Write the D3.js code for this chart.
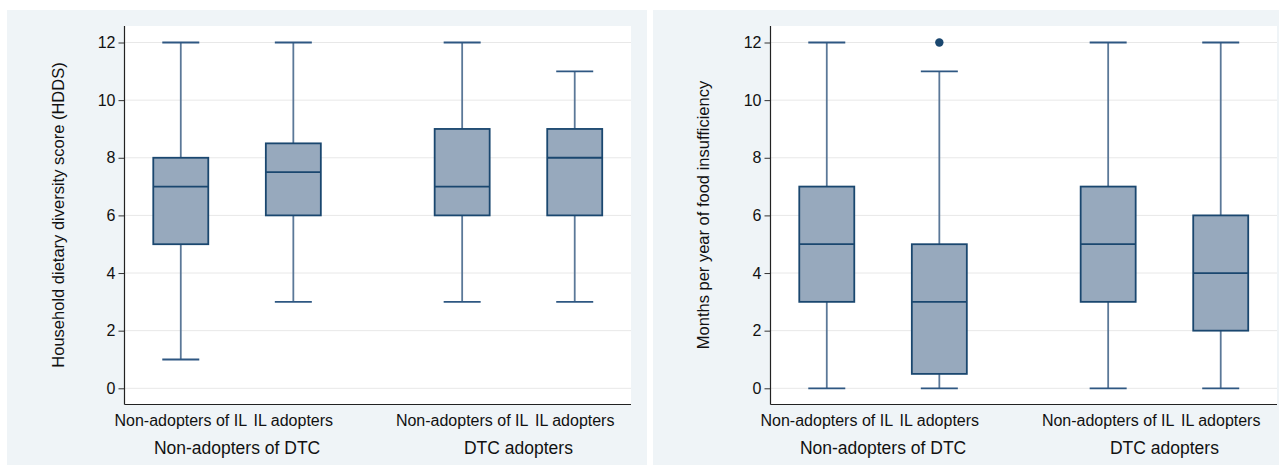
<!DOCTYPE html>
<html><head><meta charset="utf-8">
<script src="https://cdn.jsdelivr.net/npm/d3@7"></script>
<style>body{margin:0;background:#fff;font-family:"Liberation Sans",Arial,sans-serif;}</style>
</head><body><svg id="c" width="1279" height="468"></svg>
<script>
const categories = ["Non-adopters of IL", "IL adopters", "Non-adopters of IL", "IL adopters"];
const groups = ["Non-adopters of DTC", "DTC adopters"];
const positions = [1, 2, 3.5, 4.5];
const yTicks = [0, 2, 4, 6, 8, 10, 12];
// [min, q1, median, q3, max]
const hddsStats = [[1, 5, 7, 8, 12], [3, 6, 7.5, 8.5, 12], [3, 6, 7, 9, 12], [3, 6, 8, 9, 11]];
const hddsOutliers = [[], [], [], []];
const monthsStats = [[0, 3, 5, 7, 12], [0, 0.5, 3, 5, 11], [0, 3, 5, 7, 12], [0, 2, 4, 6, 12]];
const monthsOutliers = [[], [12], [], []];
const titles = ["Household dietary diversity score (HDDS)", "Months per year of food insufficiency"];

const svg = d3.select("#c");
const panels = [
  {x0: 7, x1: 647, px0: 124.5, px1: 631, stats: hddsStats, out: hddsOutliers, title: titles[0], tx: 63.5},
  {x0: 653, x1: 1279, px0: 770.5, px1: 1277, stats: monthsStats, out: monthsOutliers, title: titles[1], tx: 709}
];
const navy = "#1a476f", fill = "#97a9bd", whisk = "#5b7898";
const FONT = "Liberation Sans, Arial, sans-serif";

panels.forEach(p => {
  const g = svg.append("g").attr("font-family", FONT);
  g.append("rect").attr("x", p.x0).attr("y", 10).attr("width", p.x1 - p.x0).attr("height", 455).attr("fill", "#eff4f7");
  g.append("rect").attr("x", p.px0).attr("y", 26).attr("width", p.px1 - p.px0).attr("height", 378).attr("fill", "#fff");
  const x = d3.scaleLinear().domain([0.5, 5]).range([p.px0, p.px1]);
  const y = d3.scaleLinear().domain([0, 12]).range([388.3, 42.5]);
  g.selectAll(".grid").data(yTicks).join("line")
    .attr("x1", p.px0).attr("x2", p.px1).attr("y1", d => y(d)).attr("y2", d => y(d))
    .attr("stroke", "#e8e8e8").attr("stroke-width", 1);
  const ax = g.append("g").attr("transform", `translate(${p.px0},0)`)
    .call(d3.axisLeft(y).tickValues(yTicks).tickSize(6).tickPadding(3));
  ax.select(".domain").remove();
  ax.selectAll("line").attr("stroke", "#333");
  ax.selectAll("text").attr("font-family", FONT).attr("font-size", 16).attr("fill", "#111");
  g.append("line").attr("x1", p.px0).attr("x2", p.px0).attr("y1", 26).attr("y2", 404.5).attr("stroke", "#222").attr("stroke-width", 1.2);
  g.append("line").attr("x1", p.px0).attr("x2", p.px1).attr("y1", 404.5).attr("y2", 404.5).attr("stroke", "#222").attr("stroke-width", 1.2);
  g.append("text").attr("transform", `translate(${p.tx},215) rotate(-90)`).attr("text-anchor", "middle")
    .attr("font-size", 16.5).attr("fill", "#111").text(p.title);
  const bw = 55, cw = 37;
  p.stats.forEach((s, i) => {
    const cx = x(positions[i]);
    const b = g.append("g");
    b.append("line").attr("x1", cx).attr("x2", cx).attr("y1", y(s[0])).attr("y2", y(s[1])).attr("stroke", whisk).attr("stroke-width", 1.8);
    b.append("line").attr("x1", cx).attr("x2", cx).attr("y1", y(s[3])).attr("y2", y(s[4])).attr("stroke", whisk).attr("stroke-width", 1.8);
    b.append("line").attr("x1", cx - cw / 2).attr("x2", cx + cw / 2).attr("y1", y(s[0])).attr("y2", y(s[0])).attr("stroke", "#2e5782").attr("stroke-width", 1.8);
    b.append("line").attr("x1", cx - cw / 2).attr("x2", cx + cw / 2).attr("y1", y(s[4])).attr("y2", y(s[4])).attr("stroke", "#2e5782").attr("stroke-width", 1.8);
    b.append("rect").attr("x", cx - bw / 2).attr("width", bw).attr("y", y(s[3])).attr("height", y(s[1]) - y(s[3]))
      .attr("fill", fill).attr("stroke", navy).attr("stroke-width", 1.8);
    b.append("line").attr("x1", cx - bw / 2).attr("x2", cx + bw / 2).attr("y1", y(s[2])).attr("y2", y(s[2])).attr("stroke", navy).attr("stroke-width", 1.8);
    p.out[i].forEach(o => b.append("circle").attr("cx", cx).attr("cy", y(o)).attr("r", 4.2).attr("fill", navy));
    g.append("text").attr("x", cx).attr("y", 426).attr("text-anchor", "middle").attr("font-size", 16).attr("fill", "#111").text(categories[i]);
  });
  groups.forEach((gr, j) => {
    const cx = (x(positions[2 * j]) + x(positions[2 * j + 1])) / 2;
    g.append("text").attr("x", cx).attr("y", 454).attr("text-anchor", "middle").attr("font-size", 17.5).attr("fill", "#111").text(gr);
  });
});
</script></body></html>
